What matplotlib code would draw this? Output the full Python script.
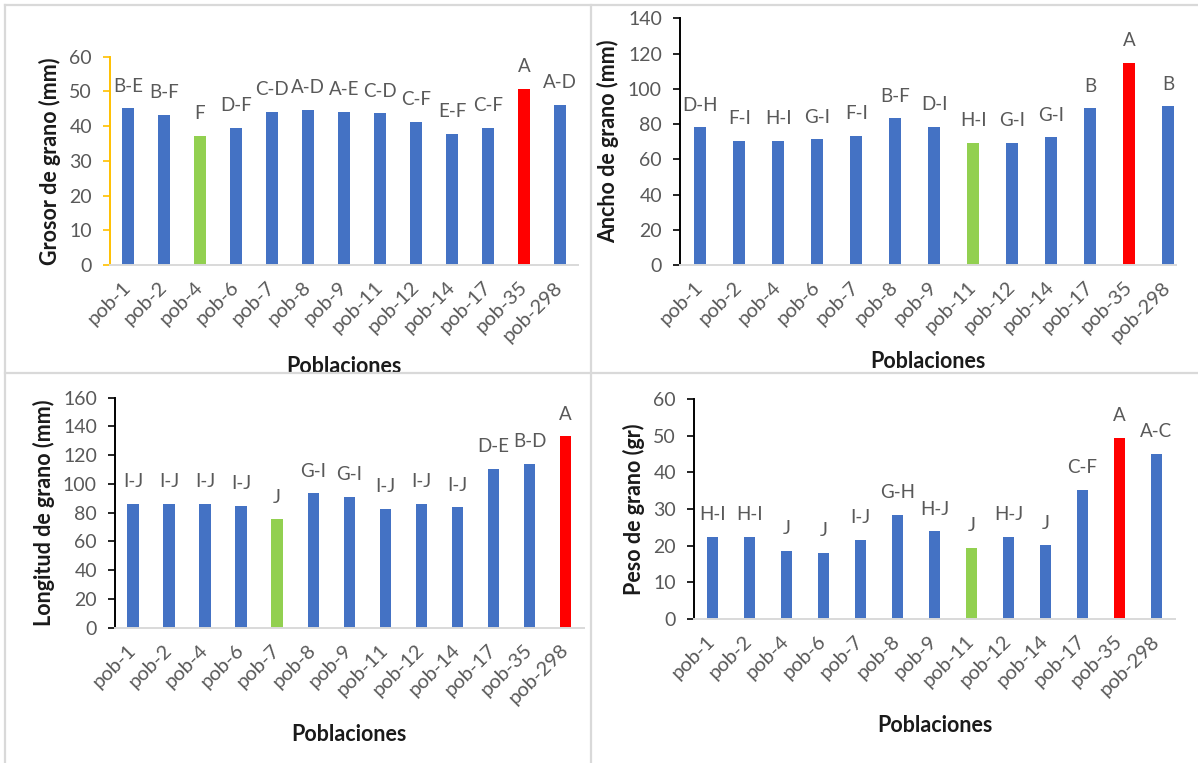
import matplotlib
matplotlib.use("Agg")
import matplotlib.pyplot as plt
from matplotlib.lines import Line2D

plt.rcParams["font.family"] = ["Lato", "DejaVu Sans"]

# Populations (x categories, shared by all four panels)
poblaciones = ["pob-1", "pob-2", "pob-4", "pob-6", "pob-7", "pob-8", "pob-9",
               "pob-11", "pob-12", "pob-14", "pob-17", "pob-35", "pob-298"]

# Grain thickness (mm)
grosor = [45.1, 43.2, 37.1, 39.6, 44.2, 44.7, 44.2, 43.7, 41.2, 37.7, 39.6, 50.7, 46.2]
grosor_letras = ["B-E", "B-F", "F", "D-F", "C-D", "A-D", "A-E", "C-D", "C-F", "E-F",
                 "C-F", "A", "A-D"]

# Grain width (mm)
ancho = [78.1, 70.4, 70.4, 71.3, 73.4, 83.2, 78.3, 69.4, 69.5, 72.5, 88.9, 114.8, 90.0]
ancho_letras = ["D-H", "F-I", "H-I", "G-I", "F-I", "B-F", "D-I", "H-I", "G-I", "G-I",
                "B", "A", "B"]

# Grain length (mm)
longitud = [86.3, 86.3, 86.3, 84.9, 75.4, 93.4, 90.9, 82.6, 86.3, 83.7, 110.4, 113.9, 133.1]
longitud_letras = ["I-J", "I-J", "I-J", "I-J", "J", "G-I", "G-I", "I-J", "I-J", "I-J",
                   "D-E", "B-D", "A"]

# Grain weight (gr)
peso = [22.5, 22.5, 18.6, 18.1, 21.5, 28.5, 23.9, 19.5, 22.5, 20.1, 35.2, 49.5, 45.1]
peso_letras = ["H-I", "H-I", "J", "J", "I-J", "G-H", "H-J", "J", "H-J", "J",
               "C-F", "A", "A-C"]

AZUL = "#4472C4"
VERDE = "#92D050"
ROJO = "#FF0000"
GRIS_TXT = "#595959"
GRIS_LINEA = "#D9D9D9"

fig = plt.figure(figsize=(11.98, 7.63), dpi=100)


def panel(rect, valores, letras, ylabel, ymax, paso, bajo, alto, color_eje,
          xlim=(-0.5, 12.5), xpad=11):
    ax = fig.add_axes(rect)
    x = list(range(len(poblaciones)))
    colores = [VERDE if p == bajo else ROJO if p == alto else AZUL for p in poblaciones]
    ax.bar(x, valores, width=0.32, color=colores, zorder=2)
    for xi, v, t in zip(x, valores, letras):
        ax.annotate(t, (xi, v), xytext=(0, 16), textcoords="offset points",
                    ha="center", va="center", fontsize=13.5, color=GRIS_TXT)
    ax.set_xlim(*xlim)
    ax.set_ylim(0, ymax)
    ax.set_yticks(range(0, ymax + 1, paso))
    ax.set_xticks(x)
    ax.set_xticklabels(poblaciones, rotation=45, ha="right", va="center",
                       rotation_mode="anchor")
    ax.tick_params(axis="x", length=0, pad=14, labelsize=14.5, labelcolor=GRIS_TXT)
    ax.tick_params(axis="y", length=5, width=1.2, color=color_eje, pad=8,
                   labelsize=14, labelcolor=GRIS_TXT)
    for s in ("top", "right"):
        ax.spines[s].set_visible(False)
    ax.spines["left"].set_color(color_eje)
    ax.spines["left"].set_linewidth(1.4)
    ax.spines["bottom"].set_color(GRIS_LINEA)
    ax.spines["bottom"].set_linewidth(1.4)
    ax.set_ylabel(ylabel, fontsize=15.5, fontweight="bold", color="#1a1a1a", labelpad=6)
    ax.set_xlabel("Poblaciones", fontsize=15.5, fontweight="bold", color="#1a1a1a",
                  labelpad=xpad)
    return ax


panel([0.0918, 0.6527, 0.3907, 0.2730], grosor, grosor_letras,
      "Grosor de grano (mm)", 60, 10, "pob-4", "pob-35", "#FFC000", xpad=8)
panel([0.5676, 0.6527, 0.4140, 0.3233], ancho, ancho_letras,
      "Ancho de grano (mm)", 140, 20, "pob-11", "pob-35", "#000000",
      xlim=(-0.52, 12.2), xpad=5)
panel([0.0960, 0.1773, 0.3912, 0.3014], longitud, longitud_letras,
      "Longitud de grano (mm)", 160, 20, "pob-7", "pob-298", "#000000", xpad=12)
panel([0.5793, 0.1887, 0.4015, 0.2883], peso, peso_letras,
      "Peso de grano (gr)", 60, 10, "pob-11", "pob-35", "#000000", xpad=12)

# Light frame and dividers between the four panels
W, H = 1198.0, 763.0
for (x0, y0, x1, y1) in [(5, 5, W, 5), (5, 5, 5, H), (591, 5, 591, H), (5, 373, W, 373)]:
    fig.add_artist(Line2D([x0 / W, x1 / W], [1 - y0 / H, 1 - y1 / H],
                          color=GRIS_LINEA, linewidth=1.6, transform=fig.transFigure))

fig.savefig("out.png", dpi=100, facecolor="white")
